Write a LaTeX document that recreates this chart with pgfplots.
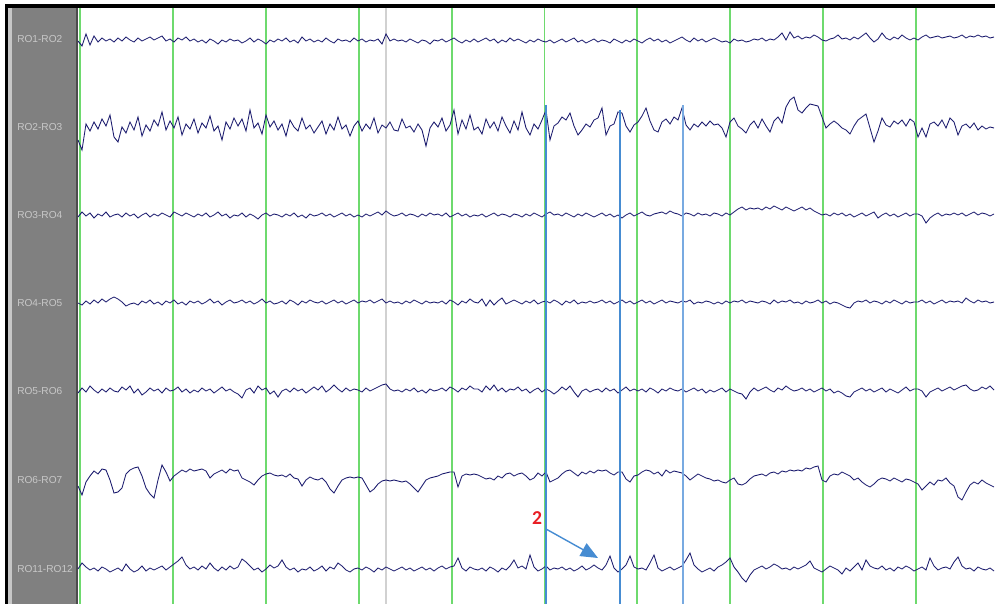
\documentclass[border=0pt]{standalone}
\usepackage{pgfplots}
\pgfplotsset{compat=1.18}
\usepackage{pgfplotstable}
\usepackage{fontspec}
\setmainfont{Liberation Sans}
\newfontfamily\calfont{Carlito}
\usetikzlibrary{arrows.meta}
\definecolor{trace}{RGB}{30,30,112}
\definecolor{gridg}{RGB}{110,218,110}
\definecolor{markb}{RGB}{70,140,210}
\definecolor{markc}{RGB}{120,170,225}
\definecolor{panel}{RGB}{128,128,128}
\definecolor{lab}{RGB}{200,200,200}
\definecolor{redlab}{RGB}{232,30,36}

\pgfplotstableread{
x a b c d e f g
78 41 140 217 303 393 486 569
82 46 150 212 305 388 495 563
86 34 124 216 301 392 482 567
90 45 131 213 304 386 476 570
94 36 122 218 300 390 471 568
98 42 129 214 303 393 474 571
102 38 119 216 299 389 469 567
106 41 126 212 302 392 470 569
110 39 115 217 299 388 480 572
114 42 137 215 297 391 493 570
118 38 142 214 299 392 492 568
122 41 127 217 302 387 488 571
126 37 133 213 306 390 474 564
130 40 122 216 304 386 470 569
134 42 130 214 303 393 468 572
138 38 117 218 305 389 467 570
142 41 136 215 301 395 476 566
146 39 125 213 303 392 488 571
150 37 131 217 300 388 494 568
154 40 120 214 304 391 498 570
158 38 126 216 302 389 480 568
162 36 112 213 305 393 465 566
166 41 130 215 301 388 472 570
170 39 121 217 303 391 481 567
174 42 128 212 300 390 476 564
178 38 117 214 304 387 473 561
182 40 135 216 302 392 470 557
186 37 124 213 305 389 472 565
190 41 129 215 301 393 469 569
194 39 119 217 303 390 471 567
198 42 133 214 301 392 470 570
202 40 123 216 304 388 469 566
206 43 128 213 302 391 471 569
210 39 116 217 299 389 478 563
214 41 131 215 303 393 474 568
218 44 126 212 301 390 472 571
222 40 140 216 305 387 470 567
226 42 122 214 302 391 473 570
230 39 129 218 300 389 469 566
234 41 118 215 303 392 471 569
238 40 126 216 302 394 470 567
242 43 119 213 300 398 478 559
246 41 131 217 303 390 480 562
250 38 110 214 301 388 482 566
254 42 128 216 304 393 485 570
258 39 123 219 302 386 480 568
262 41 134 215 299 390 476 572
266 44 115 213 303 388 474 569
270 40 127 216 301 394 473 565
274 42 121 214 304 391 475 568
278 39 130 215 303 397 476 566
282 41 124 217 301 391 475 560
286 38 136 214 304 389 477 567
290 42 120 216 300 392 474 570
294 40 127 213 302 388 478 568
298 43 131 217 305 391 479 572
302 37 118 215 301 389 486 569
306 41 129 218 303 393 480 570
310 39 125 214 300 390 477 567
314 42 133 216 302 387 479 571
318 40 127 215 303 390 480 569
322 42 121 213 301 386 478 566
326 38 134 216 304 392 482 571
330 41 124 214 302 389 489 567
334 43 130 217 300 385 493 569
338 39 117 215 303 389 486 563
342 41 129 213 301 392 480 566
346 40 125 216 304 388 478 570
350 42 136 214 302 391 477 572
354 38 126 217 300 389 478 569
358 41 121 215 303 390 477 568
362 39 131 217 301 392 478 570
366 42 124 214 302 388 485 567
370 40 129 216 300 391 492 569
374 41 118 214 303 389 489 572
378 39 133 212 301 387 484 568
382 44 125 215 299 385 481 570
386 34 128 211 303 384 480 567
390 41 122 214 301 389 481 569
394 39 130 216 303 391 480 571
398 41 131 215 302 390 481 569
402 40 119 213 304 392 482 567
406 42 128 216 301 389 481 570
410 39 126 214 303 391 484 568
414 41 132 215 300 388 488 571
418 43 124 217 302 392 492 569
422 40 130 214 304 390 486 567
426 41 146 216 301 393 480 570
430 44 128 213 303 389 478 568
434 40 122 215 302 391 477 571
438 41 127 214 303 390 476 568
442 39 118 216 301 388 474 566
446 42 131 213 304 391 473 569
450 40 125 217 300 387 472 567
454 38 110 215 302 389 472 566
458 41 134 213 305 392 487 558
462 43 120 216 301 388 476 568
466 40 129 214 303 390 474 571
470 42 115 217 299 386 475 567
474 39 130 215 302 389 474 569
478 42 127 216 303 389 475 570
482 40 134 214 299 392 477 568
486 38 119 217 306 386 479 571
490 41 128 215 300 390 478 567
494 39 122 213 305 385 480 569
498 43 131 216 301 391 476 572
502 40 117 214 298 388 478 568
506 42 126 215 304 392 474 570
510 38 133 217 302 389 473 566
514 41 121 214 300 390 476 560
518 39 130 215 302 387 474 568
522 41 112 217 304 391 473 566
526 43 128 214 301 389 476 569
530 40 135 216 303 393 480 555
534 42 124 213 300 390 478 567
538 39 129 215 304 388 473 571
542 41 120 217 302 392 476 569
546 42 110 214 301 389 472 566
550 40 140 212 303 391 482 570
554 43 126 215 300 394 480 568
558 41 123 214 302 391 478 569
562 39 117 216 305 387 474 567
566 42 120 213 301 390 471 570
570 40 113 215 303 386 470 568
574 38 126 217 300 392 473 571
578 42 135 214 304 397 476 569
582 40 130 216 302 391 472 566
586 43 124 213 303 389 474 570
590 41 127 215 301 392 471 568
594 39 120 217 303 390 473 565
598 42 118 215 302 389 470 568
602 40 108 213 300 392 471 570
606 41 135 216 303 388 470 565
610 43 126 214 301 391 473 556
614 39 124 217 304 389 475 568
618 41 112 215 302 393 472 572
622 43 113 218 300 390 472 569
626 40 126 215 303 387 479 565
630 42 132 213 301 391 482 556
634 39 125 216 304 389 476 567
638 41 122 214 302 391 475 569
642 43 116 212 300 389 472 568
646 40 108 215 303 392 470 570
650 38 121 216 301 388 471 563
654 41 130 214 304 390 474 555
658 39 132 213 302 393 472 568
662 42 122 212 300 389 476 571
666 40 119 214 303 391 470 569
670 43 124 211 301 388 473 567
674 41 117 213 302 390 471 570
678 39 120 214 303 391 472 568
682 37 108 216 301 389 473 566
686 40 125 213 302 392 476 560
690 42 130 214 300 390 480 553
694 38 124 216 304 388 477 565
698 41 127 213 302 391 474 569
702 39 122 215 303 389 476 572
706 42 126 214 301 393 478 570
710 40 121 216 302 390 479 568
714 38 125 213 304 392 481 571
718 40 124 214 302 390 480 567
722 42 128 216 304 388 482 565
726 41 137 213 301 392 483 562
730 43 122 215 303 389 480 558
734 39 118 212 301 391 478 567
738 41 126 209 302 393 484 572
742 40 129 207 300 394 485 578
746 42 133 210 303 399 483 582
750 41 125 208 301 392 479 575
754 39 121 209 302 388 476 570
758 40 128 208 303 391 475 568
762 38 119 210 301 389 474 566
766 41 126 207 302 387 476 569
770 39 132 209 304 390 473 567
774 40 121 206 300 392 472 564
778 37 117 208 303 388 474 566
782 33 123 210 301 390 471 569
786 40 107 207 302 386 472 568
790 32 100 209 300 389 470 570
794 38 97 211 303 391 471 567
798 36 110 209 302 390 470 569
802 39 113 207 304 388 471 567
806 37 108 210 301 391 468 565
810 38 104 208 303 389 469 561
814 35 105 211 302 392 467 568
818 37 106 213 300 390 466 570
822 40 117 215 303 388 480 572
826 41 128 214 301 391 482 569
830 39 124 216 304 389 476 566
834 38 121 213 302 393 474 568
838 35 124 215 303 391 475 570
842 39 128 213 305 393 472 574
846 38 130 216 307 396 474 568
850 40 134 214 308 397 476 571
854 37 126 217 303 392 480 567
858 39 120 215 301 390 478 563
862 36 117 213 302 388 482 570
866 33 114 216 300 391 485 560
870 38 128 214 303 389 487 566
874 42 142 212 301 392 484 568
878 39 131 218 302 390 480 569
882 33 118 215 304 388 478 566
886 38 125 213 301 392 479 570
890 40 127 216 303 389 481 568
894 37 121 214 300 391 478 571
898 39 124 217 302 393 480 567
902 35 120 215 304 390 482 569
906 38 126 213 301 387 479 566
910 40 119 216 303 391 480 568
914 38 122 214 302 389 482 571
918 40 137 214 302 389 484 569
922 37 128 216 300 391 490 567
926 35 137 223 303 397 486 570
930 38 124 218 301 392 482 558
934 37 122 215 304 390 485 566
938 36 126 213 302 388 480 570
942 38 120 216 300 391 481 568
946 37 128 214 303 389 478 567
950 36 118 215 301 387 483 569
954 38 122 213 302 390 486 562
958 37 135 215 301 388 497 557
962 35 126 213 303 386 500 566
966 38 124 216 298 385 492 569
970 36 128 214 301 389 485 568
974 37 123 212 303 391 482 571
978 35 130 215 300 390 484 567
982 37 126 213 302 387 480 569
986 36 129 214 301 389 483 570
990 38 127 216 303 386 485 568
994 37 128 214 302 390 487 571
}\eeg

\begin{document}
\begin{tikzpicture}
\begin{axis}[
  at={(0,0)}, anchor=south west,
  width=24.875cm, height=15.1cm, scale only axis,
  xmin=0, xmax=995, ymin=0, ymax=604, y dir=reverse,
  hide axis, clip=true]
% frame and label panel
\fill[black] (axis cs:4.5,4.5) rectangle (axis cs:995,8);
\fill[black] (axis cs:4.5,4.5) rectangle (axis cs:8.3,604);
\fill[black!22] (axis cs:8.3,8) rectangle (axis cs:11.5,604);
\fill[panel] (axis cs:11.5,8) rectangle (axis cs:76,604);
\fill[black!70] (axis cs:76,8) rectangle (axis cs:77.5,604);
% vertical time lines
\pgfplotsinvokeforeach{80,173,266,359,452,544.5,637,730,823,916}{
  \draw[gridg, line width=1pt] (axis cs:#1,8) -- (axis cs:#1,604);
}
\draw[black!18, line width=0.9pt] (axis cs:386,8) -- (axis cs:386,604);
% channel labels
\node[anchor=west, text=lab, font=\fontsize{7.2}{8}\selectfont, inner sep=0pt] at (axis cs:17,39) {RO1-RO2};
\node[anchor=west, text=lab, font=\fontsize{7.2}{8}\selectfont, inner sep=0pt] at (axis cs:17,127.5) {RO2-RO3};
\node[anchor=west, text=lab, font=\fontsize{7.2}{8}\selectfont, inner sep=0pt] at (axis cs:17,215.5) {RO3-RO4};
\node[anchor=west, text=lab, font=\fontsize{7.2}{8}\selectfont, inner sep=0pt] at (axis cs:17,303.5) {RO4-RO5};
\node[anchor=west, text=lab, font=\fontsize{7.2}{8}\selectfont, inner sep=0pt] at (axis cs:17,391.5) {RO5-RO6};
\node[anchor=west, text=lab, font=\fontsize{7.2}{8}\selectfont, inner sep=0pt] at (axis cs:17,480.5) {RO6-RO7};
\node[anchor=west, text=lab, font=\fontsize{7.2}{8}\selectfont, inner sep=0pt] at (axis cs:17,569.5) {RO11-RO12};
% traces
\addplot[trace, line width=0.62pt, no marks] table[x=x, y=a] {\eeg};
\addplot[trace, line width=0.62pt, no marks] table[x=x, y=b] {\eeg};
\addplot[trace, line width=0.62pt, no marks] table[x=x, y=c] {\eeg};
\addplot[trace, line width=0.62pt, no marks] table[x=x, y=d] {\eeg};
\addplot[trace, line width=0.62pt, no marks] table[x=x, y=e] {\eeg};
\addplot[trace, line width=0.62pt, no marks] table[x=x, y=f] {\eeg};
\addplot[trace, line width=0.62pt, no marks] table[x=x, y=g] {\eeg};
% blue markers
\draw[markb, line width=1.3pt] (axis cs:546.3,105) -- (axis cs:546.3,604);
\draw[markb, line width=2pt] (axis cs:620,110) -- (axis cs:620,604);
\draw[markc, line width=1.4pt] (axis cs:683,105) -- (axis cs:683,604);
% annotation
\node[text=redlab, font=\calfont\bfseries\fontsize{14}{16}\selectfont, inner sep=0pt] at (axis cs:537,518) {2};
\draw[markb, line width=1pt, -{Triangle[length=0.43cm, width=0.36cm]}] (axis cs:546,529) -- (axis cs:598,558);
\end{axis}
\pgfresetboundingbox
\useasboundingbox (0,0) rectangle (24.875cm,15.1cm);
\end{tikzpicture}
\end{document}
